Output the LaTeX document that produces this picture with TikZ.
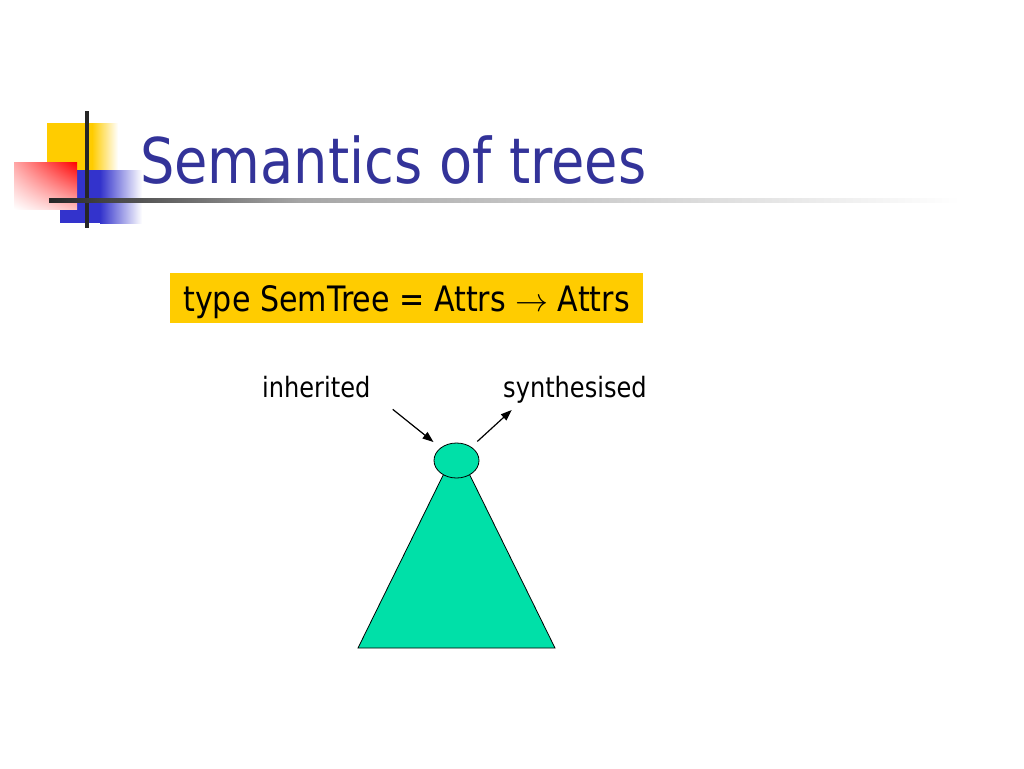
\documentclass[tikz,border=0pt]{standalone}
\usepackage{fontspec}
\setmainfont{DejaVu Sans}[FakeStretch=0.86]
\usepackage{tikz}
\usetikzlibrary{arrows.meta,positioning,shapes.geometric,shadings}
\definecolor{slideblue}{HTML}{333399}
\definecolor{slideyellow}{HTML}{FFCC00}
\definecolor{logoblue}{HTML}{3333CC}
\definecolor{treegreen}{HTML}{00E0A8}
\newcommand{\typearrow}{\scalebox{3.3}{\fontsize{10}{12}\selectfont$\rightarrow$}}

\begin{document}
\begin{tikzpicture}[x=1pt,y=-1pt, every node/.style={inner sep=0pt},
  attr/.style={anchor=base west, font=\fontsize{28}{32}\selectfont},
  flow/.style={-{Triangle[length=11pt,width=8pt]}, line width=1.2pt}]
\useasboundingbox (0,0) rectangle (1024,768);
% slide logo
\fill[slideyellow] (47,123) rectangle (92,172);
\shade[left color=slideyellow, right color=white] (92,123) rectangle (118,172);
\fill[logoblue] (60,170) rectangle (100,223);
\shade[left color=logoblue, right color=white] (100,170) rectangle (142,223);
\shade[upper left=red!35, upper right=red, lower left=white, lower right=red!25] (14,162) rectangle (77,209);
\draw[line width=4pt, black!85] (87,111) -- (87,228);
\shade[left color=black!85, right color=black!35] (49,198) rectangle (300,202);
\shade[left color=black!35, right color=white] (300,198) rectangle (960,202);
\node[anchor=base west, text=slideblue, font=\fontsize{63}{70}\selectfont] (title) at (140,183) {Semantics of trees};

\node[anchor=base, fill=slideyellow, minimum width=473pt, text height=38.7pt, text depth=11.3pt,
  font=\fontsize{35}{40}\selectfont] (semtype) at (406.5,311.7) {type SemTree = Attrs \typearrow{} Attrs};

\node[attr] (inh) at (262,397) {inherited};
\node[attr] (syn) at (503,397) {synthesised};

\draw[fill=treegreen, line width=0.8pt] (456.5,448) -- (358,648) -- (555,648) -- cycle;
\node[ellipse, draw, fill=treegreen, line width=0.8pt, minimum width=45pt, minimum height=35pt] (root) at (456.5,460.5) {};

\coordinate (inhfrom) at (392.7,409.3);
\coordinate (synto) at (511.7,410);
\draw[flow, shorten >=9pt] (inhfrom) -- (root);
\draw[flow, shorten <=8pt] (root) -- (synto);
\end{tikzpicture}
\end{document}
